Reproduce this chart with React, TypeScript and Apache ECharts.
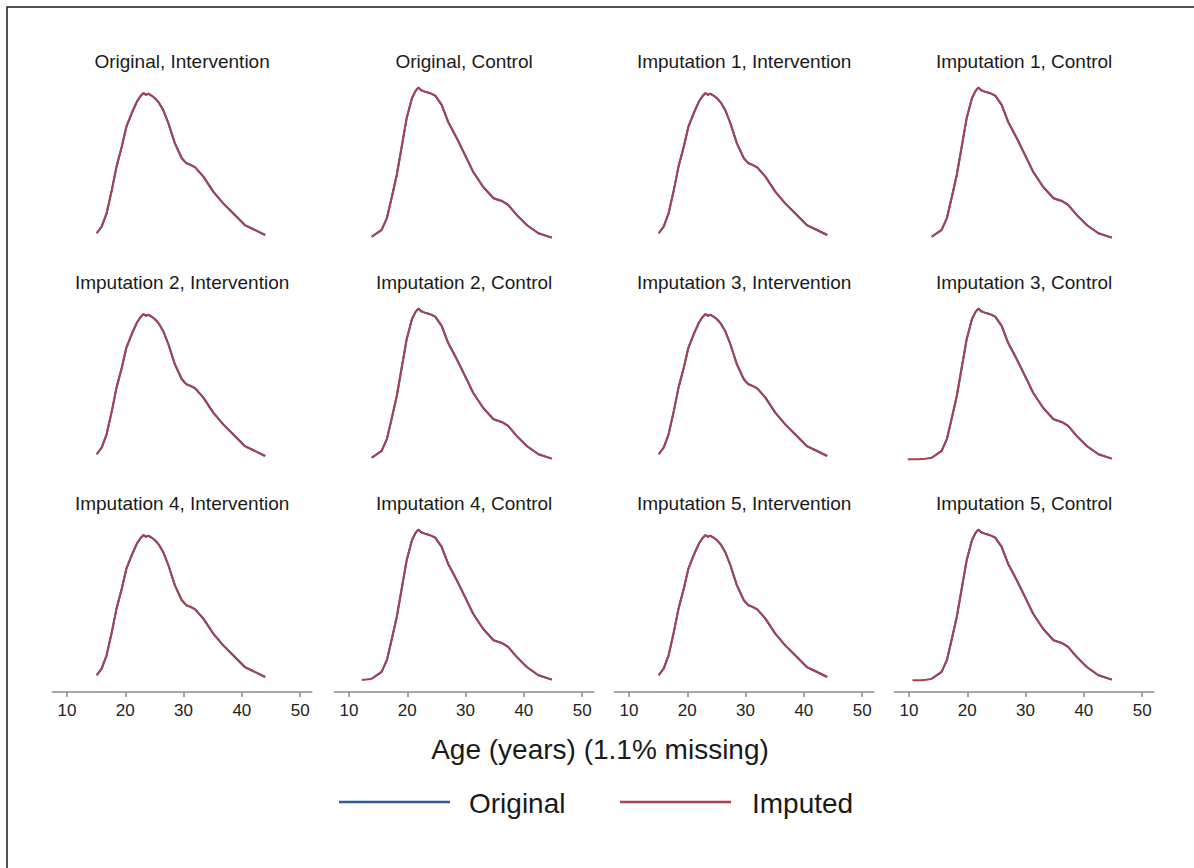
import React, { useEffect, useRef } from "react";
import * as echarts from "echarts";

const panelTitles = [
  "Original, Intervention",
  "Original, Control",
  "Imputation 1, Intervention",
  "Imputation 1, Control",
  "Imputation 2, Intervention",
  "Imputation 2, Control",
  "Imputation 3, Intervention",
  "Imputation 3, Control",
  "Imputation 4, Intervention",
  "Imputation 4, Control",
  "Imputation 5, Intervention",
  "Imputation 5, Control",
];

const ageTicks = [10, 20, 30, 40, 50];

const interventionAge = [
  15.1, 15.95, 16.8, 17.7, 18.5, 19.4, 20.2, 21.1, 22.0, 22.6,
  23.1, 23.5, 24.0, 24.5, 25.1, 25.8, 26.5, 27.4, 28.5, 29.7,
  30.5, 31.2, 32.0, 33.4, 35.1, 36.8, 38.5, 40.5, 42.0, 44.0,
];
const interventionDensity = [
  0.0026, 0.0056, 0.0116, 0.0222, 0.0327, 0.0417, 0.0508, 0.0568, 0.0621, 0.0645,
  0.0659, 0.0652, 0.0656, 0.0648, 0.0636, 0.0615, 0.0583, 0.0523, 0.0433, 0.0365,
  0.0342, 0.0335, 0.0324, 0.0282, 0.0214, 0.0161, 0.0116, 0.0063, 0.0044, 0.0018,
];

const controlAge = [
  13.9, 15.6, 16.5, 17.3, 18.2, 19.0, 19.9, 20.8, 21.4, 21.9,
  22.4, 23.0, 23.8, 24.8, 25.9, 27.0, 28.5, 29.9, 31.3, 33.0,
  34.8, 36.2, 37.3, 38.8, 40.5, 42.5, 44.8,
];
const controlDensity = [
  0.0010, 0.0041, 0.0094, 0.0184, 0.0289, 0.0410, 0.0546, 0.0636, 0.0668, 0.0684,
  0.0672, 0.0666, 0.0660, 0.0648, 0.0606, 0.0530, 0.0455, 0.0380, 0.0304, 0.0236,
  0.0184, 0.0172, 0.0154, 0.0108, 0.0063, 0.0026, 0.0006,
];

// lower tails of some imputed control samples (prepended to the control curve)
const imp3ControlTailAge = [9.8, 11.5, 12.8];
const imp3ControlTailDensity = [0.0003, 0.0003, 0.0006];
const imp4ControlTailAge = [12.2, 13.0];
const imp4ControlTailDensity = [0.0004, 0.0007];
const imp5ControlTailAge = [10.6, 12.0, 13.0];
const imp5ControlTailDensity = [0.0003, 0.0003, 0.0006];

const FONT = "'Liberation Sans', Arial, Helvetica, sans-serif";
const BLUE = "#2d5d98";
const RED = "#a8424f";

function pairs(xs: number[], ys: number[]) {
  return xs.map((x, i) => [x, ys[i]]);
}

export default function App() {
  const ref = useRef<HTMLDivElement>(null);
  useEffect(() => {
    const chart = echarts.init(ref.current!, null, { renderer: "svg" });

    const origInt = pairs(interventionAge, interventionDensity);
    const origCtl = pairs(controlAge, controlDensity);
    const tail = (a: number[], d: number[]) => pairs(a, d).concat(origCtl);
    const imputedData = [
      origInt, origCtl,
      origInt, origCtl,
      origInt, origCtl,
      origInt, tail(imp3ControlTailAge, imp3ControlTailDensity),
      origInt, tail(imp4ControlTailAge, imp4ControlTailDensity),
      origInt, tail(imp5ControlTailAge, imp5ControlTailDensity),
    ];

    const colLeft = [52.4, 334.4, 614.4, 894.4];
    const rowZero = [239, 460, 681];
    const rowTitleY = [61, 282, 503];
    const plotH = 166;
    const plotW = 259.4;

    const grids: any[] = [];
    const xAxes: any[] = [];
    const yAxes: any[] = [];
    const series: any[] = [];
    const graphics: any[] = [
      {
        type: "rect",
        shape: { x: 7, y: 7, width: 1210, height: 880 },
        style: { fill: "none", stroke: "#1a1a1a", lineWidth: 1.5 },
        silent: true,
      },
    ];

    for (let i = 0; i < 12; i++) {
      const r = Math.floor(i / 4);
      const c = i % 4;
      grids.push({
        left: colLeft[c],
        top: rowZero[r] - plotH,
        width: plotW,
        height: plotH,
        containLabel: false,
      });
      xAxes.push({
        gridIndex: i,
        type: "value",
        min: 7.5,
        max: 52,
        show: r === 2,
        offset: 11,
        splitLine: { show: false },
        axisLine: { show: true, onZero: false, lineStyle: { color: "#8a8a8a", width: 1.5 } },
        axisTick: {
          show: true,
          customValues: ageTicks,
          length: 5,
          lineStyle: { color: "#8a8a8a", width: 1.5 },
        },
        axisLabel: {
          customValues: ageTicks,
          fontSize: 17,
          color: "#222",
          margin: 10,
          fontFamily: FONT,
        },
      });
      yAxes.push({ gridIndex: i, type: "value", min: 0, max: 0.075, show: false });
      series.push({
        type: "line",
        name: "Original",
        xAxisIndex: i,
        yAxisIndex: i,
        data: c % 2 === 0 ? origInt : origCtl,
        symbol: "none",
        silent: true,
        lineStyle: { color: BLUE, width: 2 },
        z: 2,
      });
      series.push({
        type: "line",
        name: "Imputed",
        xAxisIndex: i,
        yAxisIndex: i,
        data: imputedData[i],
        symbol: "none",
        silent: true,
        lineStyle: { color: RED, width: 2 },
        z: 3,
      });
      graphics.push({
        type: "text",
        x: colLeft[c] + plotW / 2,
        y: rowTitleY[r],
        style: {
          text: panelTitles[i],
          fontSize: 19,
          fontFamily: FONT,
          fill: "#1a1a1a",
          textAlign: "center",
          textVerticalAlign: "middle",
        },
        silent: true,
      });
    }

    graphics.push(
      {
        type: "text",
        x: 600,
        y: 749,
        style: {
          text: "Age (years) (1.1% missing)",
          fontSize: 28,
          fontFamily: FONT,
          fill: "#1a1a1a",
          textAlign: "center",
          textVerticalAlign: "middle",
        },
        silent: true,
      },
      {
        type: "line",
        shape: { x1: 339, y1: 802, x2: 450, y2: 802 },
        style: { stroke: BLUE, lineWidth: 2.5 },
        silent: true,
      },
      {
        type: "text",
        x: 469,
        y: 803,
        style: {
          text: "Original",
          fontSize: 28,
          fontFamily: FONT,
          fill: "#1a1a1a",
          textAlign: "left",
          textVerticalAlign: "middle",
        },
        silent: true,
      },
      {
        type: "line",
        shape: { x1: 620, y1: 802, x2: 731, y2: 802 },
        style: { stroke: RED, lineWidth: 2.5 },
        silent: true,
      },
      {
        type: "text",
        x: 752,
        y: 803,
        style: {
          text: "Imputed",
          fontSize: 28,
          fontFamily: FONT,
          fill: "#1a1a1a",
          textAlign: "left",
          textVerticalAlign: "middle",
        },
        silent: true,
      }
    );

    chart.setOption({
      animation: false,
      backgroundColor: "#ffffff",
      grid: grids,
      xAxis: xAxes,
      yAxis: yAxes,
      series,
      graphic: graphics,
    });
    return () => chart.dispose();
  }, []);
  return (
    <div
      ref={ref}
      style={{ position: "absolute", left: 0, top: 0, width: 1194, height: 868, background: "#fff" }}
    />
  );
}
